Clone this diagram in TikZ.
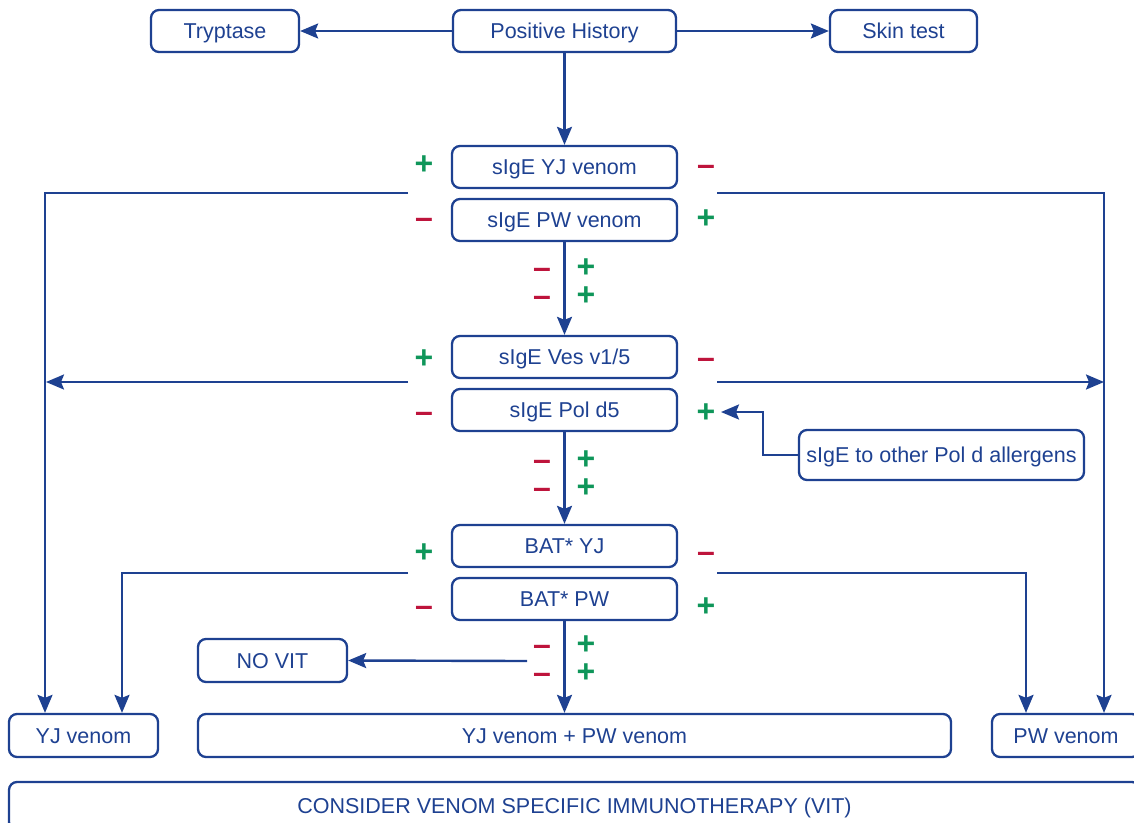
\documentclass[tikz,border=0pt]{standalone}
\usepackage{fontspec}
\setmainfont{Liberation Sans}
\usetikzlibrary{arrows.meta}
\definecolor{navy}{RGB}{30,65,145}
\definecolor{sred}{RGB}{190,20,60}
\definecolor{sgreen}{RGB}{15,150,90}
\begin{document}
\begin{tikzpicture}[x=1pt,y=-1pt,
 box/.style={draw=navy,line width=2.3pt,rounded corners=8pt,text=navy,inner sep=0pt,minimum height=42pt,text height=15.2pt,text depth=0pt,font=\fontsize{21.5}{24}\selectfont},
 conn/.style={draw=navy,line width=2.4pt},
 arr/.style={conn,-{Stealth[length=18pt,width=15pt,inset=3pt]}},
 plus/.style={text=sgreen,font=\bfseries\fontsize{32}{32}\selectfont,inner sep=0pt,anchor=center},
 minus/.style={text=sred,font=\bfseries\fontsize{32}{32}\selectfont,inner sep=0pt,anchor=center}]
\useasboundingbox (0,0) rectangle (1134,822);
% boxes
\node[box,minimum width=148pt] (try) at (225,31) {Tryptase};
\node[box,minimum width=223pt] (ph) at (564.5,31) {Positive History};
\node[box,minimum width=147pt] (skin) at (903.5,31) {Skin test};
\node[box,minimum width=225pt] (yj) at (564.5,167) {sIgE YJ venom};
\node[box,minimum width=225pt] (pw) at (564.5,220) {sIgE PW venom};
\node[box,minimum width=225pt] (ves) at (564.5,357) {sIgE Ves v1/5};
\node[box,minimum width=225pt] (pol) at (564.5,410) {sIgE Pol d5};
\node[box,minimum width=285pt,minimum height=50pt] (other) at (941.5,455) {sIgE to other Pol d allergens};
\node[box,minimum width=225pt] (batyj) at (564.5,546) {BAT* YJ};
\node[box,minimum width=225pt] (batpw) at (564.5,599) {BAT* PW};
\node[box,minimum width=149pt,minimum height=43pt] (novit) at (272.5,660.5) {NO VIT};
\node[box,minimum width=149pt,minimum height=43pt] (yjv) at (83.5,735.5) {YJ venom};
\node[box,minimum width=753pt,minimum height=43pt] (both) at (574.5,735.5) {YJ venom + PW venom};
\node[box,minimum width=148pt,minimum height=43pt] (pwv) at (1066,735.5) {PW venom};
\node[box,minimum width=1131pt,minimum height=48pt] (vit) at (574.5,806) {CONSIDER VENOM SPECIFIC IMMUNOTHERAPY (VIT)};
% connector coordinates
\coordinate (l1) at (408,193); \coordinate (r1) at (717,193);
\coordinate (l2) at (408,382); \coordinate (l2e) at (46,382);
\coordinate (r2) at (717,382); \coordinate (r2e) at (1104,382);
\coordinate (l3) at (408,573); \coordinate (r3) at (717,573);
\coordinate (oth) at (721,412);
\coordinate (nv) at (527,661);
% connectors
\draw[arr] (ph.west) -- (try.east);
\draw[arr] (ph.east) -- (skin.west);
\draw[arr] (ph.south) -- (yj.north);
\draw[arr] (pw.south) -- (ves.north);
\draw[arr] (pol.south) -- (batyj.north);
\draw[arr] (batpw.south) -- (batpw.south |- both.north);
\draw[arr] (l1) -| ([xshift=-38.5pt]yjv.north);
\draw[arr] (r1) -| ([xshift=38pt]pwv.north);
\draw[arr] (l2) -- (l2e);
\draw[arr] (r2) -- (r2e);
\draw[arr] (l3) -| ([xshift=38.5pt]yjv.north);
\draw[arr] (r3) -| ([xshift=-40pt]pwv.north);
\draw[arr] (other.west) -- ++(-35,0) |- (oth);
\draw[arr] (nv) -- (novit.east);
% signs
\foreach \p [count=\i] in {(424,165),(706,219),(586,268),(586,296),(424,359),(706,413),(586,460),(586,488),(424,553),(706,607),(586,645),(586,673)}
  \node[plus] (p\i) at \p {+};
\foreach \p [count=\i] in {(706,170),(424,223),(542,273),(542,301),(706,363),(424,417),(542,465),(542,493),(706,557),(424,611),(542,650),(542,678)}
  \node[minus] (m\i) at \p {–};
\end{tikzpicture}
\end{document}
